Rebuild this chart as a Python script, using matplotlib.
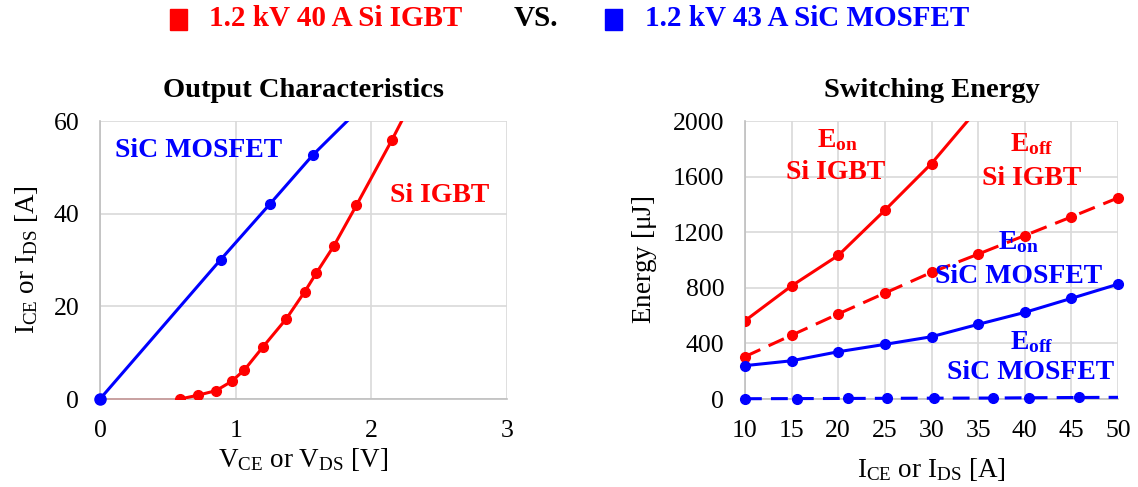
import matplotlib
matplotlib.use("Agg")
import matplotlib.pyplot as plt

plt.rcParams['font.family'] = ['Liberation Serif', 'DejaVu Serif']
plt.rcParams['mathtext.fontset'] = 'custom'
plt.rcParams['mathtext.rm'] = 'Liberation Serif'
plt.rcParams['mathtext.bf'] = 'Liberation Serif:bold'
plt.rcParams['mathtext.it'] = 'Liberation Serif:italic'
plt.rcParams['mathtext.default'] = 'regular'

RED = '#FF0000'
BLUE = '#0000FF'
GRID = '#D9D9D9'

# output characteristics
igbt_v = [0.0, 0.59, 0.72, 0.855, 0.97, 1.065, 1.2, 1.373, 1.51, 1.595, 1.725, 1.89, 2.15, 2.4]
igbt_i = [0.0, 0.0, 0.8, 1.8, 3.8, 6.3, 11.2, 17.3, 23.2, 27.2, 33.1, 41.8, 55.8, 70.0]
mos_v = [0.0, 0.89, 1.253, 1.57, 1.95]
mos_i = [0.0, 30.1, 42.1, 52.7, 63.7]

# switching energy
cur = [10, 15, 20, 25, 30, 35, 40, 45, 50]
eon_igbt = [563, 814, 1033, 1358, 1694, 2090]
eoff_igbt = [305, 459, 612, 762, 911, 1042, 1176, 1310, 1447]
eon_mos = [240, 275, 340, 393, 448, 537, 623, 724, 826]
eoff_mos_i = [10, 15.6, 21.0, 25.2, 30.3, 36.6, 40.5, 45.8, 50]
eoff_mos = [2, 3, 4, 5, 6, 7, 9, 11, 12]

fig = plt.figure(figsize=(11.38, 4.87), dpi=100)
ax1 = fig.add_axes([100 / 1138, 88 / 487, 407 / 1138, 278 / 487])
ax2 = fig.add_axes([745 / 1138, 88 / 487, 373 / 1138, 278 / 487])

TICK = 18.5
LABEL = 19.5
DASH = (0, (5.5, 3))


def style(ax):
    ax.grid(True, color=GRID, lw=1.2)
    ax.set_axisbelow(True)
    for s in ['top', 'right']:
        ax.spines[s].set_visible(False)
    for s in ['left', 'bottom']:
        ax.spines[s].set_color('#BFBFBF')
        ax.spines[s].set_linewidth(1.2)
    ax.tick_params(length=0, labelsize=TICK)
    ax.tick_params(axis='x', pad=15)
    ax.tick_params(axis='y', pad=15)


style(ax1)
ax1.plot(igbt_v[:2], igbt_i[:2], color=RED, lw=1.3, zorder=2, clip_on=False)
ax1.plot(igbt_v[1:], igbt_i[1:], color=RED, lw=2.2, marker='o', ms=7, zorder=3)
ax1.plot(mos_v, mos_i, color=BLUE, lw=2.2, marker='o', ms=7, zorder=4)
ax1.plot(mos_v[:1], mos_i[:1], color=BLUE, marker='o', ms=8, clip_on=False, zorder=5)
ax1.set_xlim(0, 3)
ax1.set_ylim(0, 60)
ax1.set_xticks([0, 1, 2, 3])
ax1.set_yticks([0, 20, 40, 60])
ax1.set_title('Output Characteristics', fontsize=20.5, fontweight='bold', pad=17)
ax1.set_xlabel(r'V$_{CE}$ or V$_{DS}$ [V]', fontsize=LABEL, labelpad=3)
ax1.set_ylabel(r'I$_{CE}$ or I$_{DS}$ [A]', fontsize=LABEL, labelpad=10)
ax1.text(0.11, 53.7, 'SiC MOSFET', color=BLUE, fontsize=20, fontweight='bold', va='center')
ax1.text(2.14, 44.0, 'Si IGBT', color=RED, fontsize=20, fontweight='bold', va='center')

style(ax2)
ax2.plot(cur[:len(eon_igbt)], eon_igbt, color=RED, lw=2.2, marker='o', ms=7, zorder=3)
ax2.plot(cur, eoff_igbt, color=RED, lw=2.2, ls=DASH, marker='o', ms=7,
         zorder=3, clip_on=False)
ax2.plot(cur, eon_mos, color=BLUE, lw=2.2, marker='o', ms=7, zorder=4, clip_on=False)
ax2.plot(eoff_mos_i, eoff_mos, color=BLUE, lw=2.2, ls=DASH, marker='o', ms=7,
         markevery=list(range(len(eoff_mos) - 1)), zorder=4, clip_on=False)
ax2.set_xlim(10, 50)
ax2.set_ylim(0, 2000)
ax2.set_xticks(cur)
ax2.set_yticks([0, 400, 800, 1200, 1600, 2000])
ax2.set_title('Switching Energy', fontsize=20.5, fontweight='bold', pad=17)
ax2.set_xlabel(r'I$_{CE}$ or I$_{DS}$ [A]', fontsize=LABEL, labelpad=10)
ax2.set_ylabel(r'Energy [$\mu$J]', fontsize=LABEL, labelpad=10)

lab = dict(fontsize=20, fontweight='bold', ha='center', va='center')
ax2.text(19.9, 1860, r'E$_{\mathbf{on}}$', color=RED, **lab)
ax2.text(19.7, 1631, 'Si IGBT', color=RED, **lab)
ax2.text(40.8, 1835, r'E$_{\mathbf{off}}$', color=RED, **lab)
ax2.text(40.7, 1588, 'Si IGBT', color=RED, **lab)
ax2.text(39.3, 1130, r'E$_{\mathbf{on}}$', color=BLUE, **lab)
ax2.text(39.3, 884, 'SiC MOSFET', color=BLUE, **lab)
ax2.text(40.8, 410, r'E$_{\mathbf{off}}$', color=BLUE, **lab)
ax2.text(40.6, 194, 'SiC MOSFET', color=BLUE, **lab)

# header legend
fig.patches.append(plt.Rectangle((170 / 1138, 1 - 30 / 487), 17 / 1138, 21 / 487,
                                 transform=fig.transFigure, color=RED))
fig.patches.append(plt.Rectangle((605 / 1138, 1 - 30 / 487), 17 / 1138, 21 / 487,
                                 transform=fig.transFigure, color=BLUE))
fig.text(209 / 1138, 1 - 19 / 487, '1.2 kV 40 A Si IGBT', color=RED, fontsize=21,
         fontweight='bold', va='center')
fig.text(514 / 1138, 1 - 19 / 487, 'VS.', color='black', fontsize=21,
         fontweight='bold', va='center')
fig.text(645 / 1138, 1 - 19 / 487, '1.2 kV 43 A SiC MOSFET', color=BLUE, fontsize=21,
         fontweight='bold', va='center')

fig.savefig('out.png', dpi=100)
